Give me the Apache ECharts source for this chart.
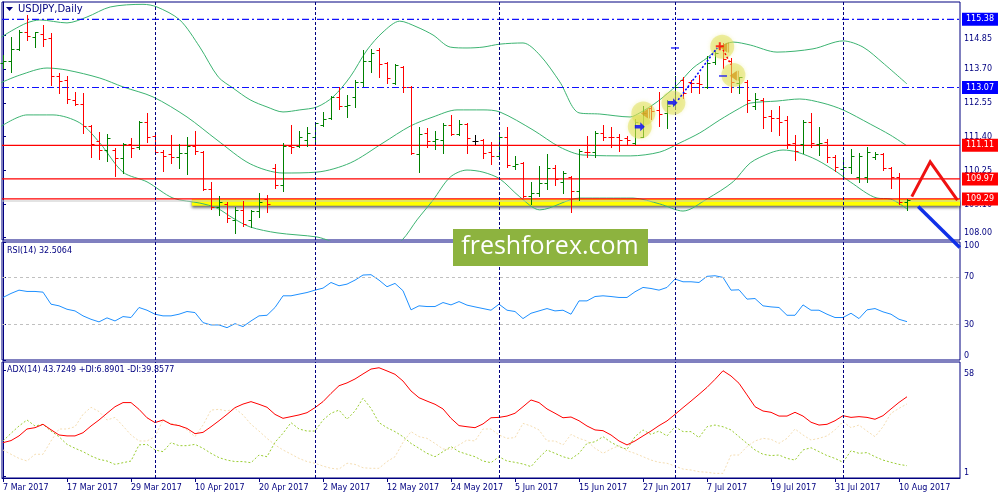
<!DOCTYPE html>
<html><head><meta charset="utf-8"><title>USDJPY Daily</title>
<script src="https://cdn.jsdelivr.net/npm/echarts@6/dist/echarts.min.js"></script>
<style>html,body{margin:0;padding:0;background:#fff;}#chart{width:1000px;height:500px;}</style>
</head><body><div id="chart"></div>
<script>
// ---------- data ----------
const dates = ['7 Mar 2017','8 Mar 2017','9 Mar 2017','10 Mar 2017','13 Mar 2017','14 Mar 2017','15 Mar 2017','16 Mar 2017','17 Mar 2017','20 Mar 2017','21 Mar 2017','22 Mar 2017','23 Mar 2017','24 Mar 2017','27 Mar 2017','28 Mar 2017','29 Mar 2017','30 Mar 2017','31 Mar 2017',
'3 Apr 2017','4 Apr 2017','5 Apr 2017','6 Apr 2017','7 Apr 2017','10 Apr 2017','11 Apr 2017','12 Apr 2017','13 Apr 2017','14 Apr 2017','17 Apr 2017','18 Apr 2017','19 Apr 2017','20 Apr 2017','21 Apr 2017','24 Apr 2017','25 Apr 2017','26 Apr 2017','27 Apr 2017','28 Apr 2017',
'1 May 2017','2 May 2017','3 May 2017','4 May 2017','5 May 2017','8 May 2017','9 May 2017','10 May 2017','11 May 2017','12 May 2017','15 May 2017','16 May 2017','17 May 2017','18 May 2017','19 May 2017','22 May 2017','23 May 2017','24 May 2017','25 May 2017','26 May 2017','29 May 2017','30 May 2017','31 May 2017',
'1 Jun 2017','2 Jun 2017','5 Jun 2017','6 Jun 2017','7 Jun 2017','8 Jun 2017','9 Jun 2017','12 Jun 2017','13 Jun 2017','14 Jun 2017','15 Jun 2017','16 Jun 2017','19 Jun 2017','20 Jun 2017','21 Jun 2017','22 Jun 2017','23 Jun 2017','26 Jun 2017','27 Jun 2017','28 Jun 2017','29 Jun 2017','30 Jun 2017',
'3 Jul 2017','4 Jul 2017','5 Jul 2017','6 Jul 2017','7 Jul 2017','10 Jul 2017','11 Jul 2017','12 Jul 2017','13 Jul 2017','14 Jul 2017','17 Jul 2017','18 Jul 2017','19 Jul 2017','20 Jul 2017','21 Jul 2017','24 Jul 2017','25 Jul 2017','26 Jul 2017','27 Jul 2017','28 Jul 2017','31 Jul 2017',
'1 Aug 2017','2 Aug 2017','3 Aug 2017','4 Aug 2017','7 Aug 2017','8 Aug 2017','9 Aug 2017','10 Aug 2017','11 Aug 2017'];

const opens = [113.89,113.97,114.38,114.96,114.79,114.87,114.74,113.46,113.32,112.65,
112.50,111.76,111.27,110.95,110.95,110.67,111.15,111.06,111.90,111.43,
110.89,110.81,110.72,110.84,111.10,110.89,109.62,109.03,109.12,108.58,
108.92,108.58,108.89,109.28,110.35,109.76,111.10,111.10,111.29,111.40,
111.80,112.02,112.76,112.44,112.76,113.27,113.98,114.34,113.89,113.21,
113.78,113.10,110.81,111.52,111.27,111.29,111.80,111.48,111.83,111.27,
111.29,110.89,110.75,111.38,110.42,110.50,109.39,109.50,109.84,110.33,
109.88,110.05,109.56,110.89,110.89,111.52,111.40,111.40,111.35,111.20,
111.40,112.36,112.31,112.19,112.51,113.32,113.27,113.21,113.08,113.95,
114.48,113.98,113.21,113.27,112.44,112.65,112.10,112.02,111.97,111.18,
111.15,111.91,111.15,111.23,110.72,110.30,110.39,110.02,110.05,110.72,
110.81,110.33,110.05,109.20];
const closes = [113.98,114.38,114.96,114.83,114.94,114.71,113.46,113.29,112.69,112.51,
111.78,111.15,110.95,111.37,110.67,111.15,111.03,111.91,111.38,110.87,
110.75,110.72,110.84,111.09,110.93,109.62,109.03,109.20,108.63,108.92,
108.44,108.88,109.20,109.12,109.76,111.10,111.06,111.38,111.52,111.85,
112.00,112.74,112.44,112.48,113.27,113.98,114.25,113.87,113.38,113.83,
113.08,110.84,111.49,111.27,111.31,111.80,111.48,111.83,111.35,111.27,
110.84,110.75,111.38,110.44,110.46,109.39,109.50,109.84,110.33,109.96,
110.16,109.56,110.93,110.87,111.54,111.40,111.38,111.29,111.29,111.91,
112.19,112.28,112.17,112.44,113.08,112.87,113.23,113.19,113.89,114.23,
114.02,113.27,113.41,112.65,112.67,112.06,112.02,111.91,111.15,110.93,
111.91,111.18,111.20,110.72,110.39,110.39,110.75,110.75,110.89,110.81,
110.33,110.05,109.20,109.25];
const lows = [113.72,113.61,114.34,114.68,114.45,114.49,113.15,112.89,112.56,112.48,
111.54,110.72,110.63,110.59,110.07,110.16,110.70,110.98,111.23,110.86,
110.25,110.52,110.33,110.13,110.81,109.60,108.94,108.75,108.52,108.12,
108.37,108.35,108.69,108.86,109.65,109.57,110.86,111.06,111.09,111.20,
111.76,111.99,112.33,112.08,112.40,113.12,113.61,113.44,113.21,113.18,
112.93,110.81,110.22,111.04,110.97,110.86,111.46,111.46,110.86,111.15,
110.67,110.48,110.67,110.39,110.30,109.37,109.12,109.39,109.62,109.76,
109.48,108.84,109.25,110.72,110.72,111.29,111.06,110.93,111.15,111.15,
111.38,111.99,111.76,111.69,112.44,112.70,112.93,112.87,113.06,113.87,
113.72,112.93,112.87,112.25,112.33,111.69,111.61,111.46,111.01,110.61,
110.84,111.06,110.78,110.55,110.25,110.02,110.16,109.88,109.88,110.63,
110.27,109.65,109.12,108.92];
const highs = [114.17,114.77,115.02,115.53,114.96,115.19,114.91,113.55,113.46,112.91,
112.87,111.80,111.57,111.49,111.01,111.20,111.35,111.94,112.19,111.46,
110.95,111.46,111.15,111.40,111.59,110.93,109.88,109.39,109.20,109.03,
109.22,108.92,109.48,109.43,110.46,111.18,111.80,111.59,111.72,111.91,
112.25,112.78,113.08,112.82,113.32,114.34,114.36,114.40,113.95,113.86,
113.80,113.12,111.72,111.69,111.61,111.85,112.14,111.97,111.85,111.46,
111.31,111.23,111.46,111.74,110.75,110.53,109.88,110.41,110.81,110.44,
110.25,110.07,110.97,111.43,111.59,111.80,111.72,111.48,111.43,111.99,
112.44,112.44,112.93,112.65,113.46,113.44,113.32,113.49,114.14,114.32,
114.57,114.06,113.44,113.32,112.87,112.70,112.31,112.44,112.10,111.46,
111.97,112.19,111.72,111.31,110.78,110.67,110.97,110.86,111.06,110.89,
110.84,110.39,110.16,109.28];

// Bollinger bands: [bar index, price]
const bbUpper = [[-0.375,114.75],[1.25,115.02],[3,115.26],[4.6,115.36],[8,115.26],[10.5,115.46],[13.4,115.80],[17.5,115.89],[19.25,115.80],[22.1,115.36],[24.6,114.44],[26.9,113.43],[28.75,113.05],[30.9,112.65],[33,112.41],[35,112.24],[37.1,112.31],[39.25,112.41],[41.25,112.75],[43.4,113.43],[45.5,114.34],[47.5,114.95],[49.6,115.32],[51.75,115.12],[53.75,114.85],[55.9,114.44],[58,114.41],[60,114.44],[62.1,114.54],[65,114.58],[67.1,114.17],[69.6,113.26],[72,112.21],[74.6,112.17],[78.4,112.07],[79.6,112.21],[81.75,112.58],[84.25,113.15],[86.25,113.73],[88,114.07],[89.6,114.44],[91.25,114.61],[93.4,114.51],[96.75,114.27],[101.25,114.38],[105,114.65],[107.5,114.44],[110,113.90],[113,113.19]];
const bbMiddle = [[-0.375,113.22],[2.1,113.49],[5.5,113.73],[8,113.66],[12.1,113.39],[15,113.09],[18.75,112.75],[23,112.07],[26.75,111.29],[30.9,110.48],[35,110.17],[39.25,110.20],[43.4,110.51],[47.5,111.19],[50.9,111.76],[53.75,112.07],[56.75,112.31],[60,112.31],[62.1,112.24],[66.25,111.63],[69.6,111.05],[72.5,110.78],[78.4,110.75],[82.1,110.88],[84.6,111.19],[87.1,111.53],[89.6,111.97],[92.1,112.37],[93.4,112.54],[96.75,112.61],[99.6,112.68],[102.5,112.54],[105,112.31],[108.4,111.83],[110.9,111.46],[113,111.09]];
const bbLower = [[-0.375,111.73],[3,112.14],[6.25,112.14],[9.6,111.87],[12.1,111.19],[15,110.20],[18,109.87],[21.25,109.32],[24.6,109.15],[26.75,108.98],[28.75,108.64],[30.9,108.34],[34.25,108.14],[39.25,108.00],[40.9,107.86],[43.4,107.59],[47.5,107.43],[49.9,107.90],[51.75,108.58],[53.75,109.25],[55.9,110.03],[58,110.27],[60,110.20],[62.1,109.97],[64.6,109.36],[67.1,108.92],[72.1,109.32],[78.75,109.32],[82.1,109.12],[85,108.88],[88,109.29],[91.25,109.87],[93.4,110.51],[95.9,110.85],[97.5,110.95],[99.25,110.88],[101.75,110.61],[104.25,110.20],[105.9,109.87],[109.25,109.32],[110.9,109.29],[113,108.95]];

const rsi = [53.0,56.4,59.2,58.1,58.1,57.5,47.3,45.9,43.0,41.6,
37.4,34.5,32.3,35.7,33.1,36.8,36.0,44.5,42.2,38.8,
37.4,37.4,38.8,41.1,40.2,31.7,29.7,29.7,27.4,30.8,
28.3,33.1,37.4,37.9,44.5,54.4,54.4,55.8,57.2,59.2,
60.9,65.7,62.9,64.3,67.7,72.0,72.3,67.7,62.1,64.9,
58.7,42.5,45.9,45.3,45.3,48.7,46.7,49.5,46.5,45.0,
43.6,42.2,47.3,42.2,41.1,35.1,39.6,41.6,43.6,41.6,
42.2,38.8,50.1,50.1,53.8,54.4,53.8,53.0,53.0,57.8,
61.5,60.6,59.2,61.5,68.6,66.3,66.3,65.7,70.9,71.4,
70.0,59.2,59.5,51.6,52.1,45.9,45.0,44.5,37.9,37.9,
46.7,42.2,42.2,38.8,36.0,36.0,39.6,35.1,42.5,43.6,
40.8,38.8,34.5,32.5];
const adx = [19.2,20.3,22.8,26.5,27.2,29.0,26.1,23.3,22.8,22.8,
24.5,28.1,31.3,34.9,38.4,40.6,40.6,37.0,32.5,29.9,
31.3,29.0,28.3,26.8,24.0,24.7,27.7,30.9,34.3,37.9,
39.8,41.1,39.7,38.1,34.3,32.2,33.1,34.0,35.2,37.9,
41.1,45.5,49.6,51.1,53.2,55.9,58.5,59.2,57.5,55.7,
52.1,46.8,43.2,41.4,39.7,37.2,32.2,28.3,27.7,27.2,
29.2,32.5,32.7,33.4,34.9,38.4,42.0,40.6,37.2,34.9,
32.5,32.9,30.9,28.1,26.0,25.6,23.3,20.1,18.0,20.1,
22.8,25.4,28.3,30.8,34.3,37.9,41.4,45.0,48.7,53.0,
57.6,54.8,50.9,44.7,38.4,36.1,35.4,33.4,33.4,35.4,
33.4,30.1,28.6,29.0,30.9,33.6,32.7,33.1,32.7,31.7,
33.6,37.2,40.7,43.7];
const plusDI = [20.1,24.2,28.1,31.3,28.1,29.0,25.4,22.4,18.3,16.2,
14.4,12.1,10.3,9.4,7.6,8.5,9.4,18.0,18.3,15.3,
14.4,19.2,17.6,17.6,18.3,16.2,13.5,11.2,9.9,9.1,
9.1,8.5,12.6,11.7,19.4,24.2,29.9,26.5,25.4,25.4,
31.3,34.9,36.6,31.7,36.1,42.9,37.5,29.9,27.2,25.1,
22.4,18.8,16.2,13.5,11.7,14.4,17.1,14.4,13.0,11.7,
9.4,8.5,11.7,9.4,8.7,7.8,6.4,11.2,15.3,13.5,
11.7,10.5,13.5,18.8,19.7,22.4,19.4,17.1,15.6,22.4,
26.0,23.6,25.4,22.8,27.7,25.1,25.1,21.9,27.7,28.6,
27.7,26.0,22.4,18.8,15.3,13.0,12.3,12.6,10.8,9.9,
15.3,16.5,14.4,12.3,10.8,8.7,14.9,13.5,13.9,11.7,
9.9,8.7,7.6,6.9];
const minusDI = [15.3,13.0,10.8,9.4,13.0,13.0,20.1,26.5,26.5,27.7,
34.3,38.1,35.8,31.3,32.7,28.1,23.3,20.1,20.1,22.4,
31.3,29.5,28.6,26.0,22.4,28.6,36.6,37.0,36.1,37.5,
34.0,29.0,25.4,21.5,18.0,15.3,13.1,10.8,9.1,8.2,
6.7,5.5,5.1,8.2,7.6,5.8,5.5,5.5,9.1,11.7,
19.4,25.1,22.4,21.5,18.8,15.8,15.6,18.0,20.6,20.1,
26.5,26.5,23.3,21.5,21.9,29.5,28.1,26.0,20.1,20.1,
18.0,23.6,21.5,20.1,16.2,13.5,15.8,17.6,14.9,13.5,
11.7,9.9,8.7,8.2,6.7,5.1,4.6,3.7,3.4,2.8,
2.8,12.6,12.6,17.1,20.1,21.5,21.0,18.8,21.5,26.5,
23.3,20.6,21.5,22.8,26.0,30.4,27.2,28.6,25.4,22.4,
27.7,34.9,37.5,39.9];

// tick labels / levels
const xLabelIdx = [0,8,16,24,32,40,48,56,64,72,80,88,96,104,112];
const monthStartIdx = [19,39,62,84,105];
const priceTicks = [108.00,109.10,110.25,111.40,112.55,113.70,114.85];
const blueLevels = [115.38,113.07];
const redLevels = [111.11,109.97,109.29];
const greyLevel = [109.22];
const rsiTicks = [0,30,70,100];
const rsiLevels = [30,70];
const adxTicks = [1,58];
const zoneStartIdx = 23.6, zoneTop = 109.29, zoneBottom = 109.06;
// annotations (bar index, price)
const signalCircles = [[79.6,111.74],[80.04,112.19],[83.8,112.55],[89.9,114.45],[91.3,113.49]];
const buyArrows = [[79.6,111.74],[83.7,112.55]];
const flagMarks = [[80.3,112.19],[90.2,114.43],[91.4,113.47]];
const crossMarks = [[89.6,114.47]];
const dashMarks = [[84,114.41],[90,113.46]];
const tradeLine = [[84.4,112.65],[89.25,114.41]];
const closeLine = [[90.0,114.35],[91.0,113.85]];
const redArrowPath = [[113.6,109.37],[115.9,110.55],[119.3,109.25]];
const blueArrowPath = [[114.4,109.03],[119.6,107.64]];

// ---------- chart ----------
const NAVY = '#000080';
const FONT = 'DejaVu Sans';
const XMIN = -0.125, XMAX = 119.625;
const ohlc = opens.map((o,i)=>[i,o,closes[i],lows[i],highs[i]]);
const idx = a => a.map((v,i)=>[i,v]);

function xAxisFor(g, showLabels){
  return {type:'value', gridIndex:g, min:XMIN, max:XMAX,
    axisLine:{show:showLabels, lineStyle:{color:NAVY}},
    axisTick:{show:showLabels, customValues:xLabelIdx, length:4, lineStyle:{color:NAVY}},
    axisLabel:{show:showLabels, customValues:xLabelIdx, formatter:v=>dates[Math.round(v)]||'', align:'left',
      color:NAVY, fontFamily:FONT, fontSize:8, margin:6},
    splitLine:{show:false}};
}
function yAxisFor(g, min, max, ticks, fmt){
  return {type:'value', gridIndex:g, position:'right', min:min, max:max,
    axisLine:{show:true, lineStyle:{color:NAVY}},
    axisTick:{show:true, customValues:ticks, length:3, lineStyle:{color:NAVY}},
    axisLabel:{customValues:ticks, formatter:fmt, color:NAVY, fontFamily:FONT, fontSize:8, margin:4,
      verticalAlignMaxLabel:'top', verticalAlignMinLabel:'bottom'},
    splitLine:{show:false}};
}
// horizontal level drawn as a two-point line across the whole axis, with a price box at its end
function levelSeries(v, lineColor, boxColor, dash, showBox){
  return {type:'line', xAxisIndex:0, yAxisIndex:0, data:[[XMIN,v],[XMAX,v]], z:3, silent:true,
    symbol:'none', color:lineColor, lineStyle:{color:lineColor, type:dash, width:1.2},
    endLabel:{show:showBox, formatter:()=>v.toFixed(2), distance:2, color:'#ffffff',
      backgroundColor:boxColor, fontFamily:FONT, fontSize:8, padding:[3,4,2,4]}};
}
function vGridSeries(g){
  return {type:'line', xAxisIndex:g, yAxisIndex:g, data:[], z:1, color:NAVY,
    markLine:{silent:true, symbol:['none','none'], label:{show:false},
      lineStyle:{color:NAVY, type:[3,2], width:1, opacity:1},
      data: monthStartIdx.map(v=>({xAxis:v}))}};
}

const gridBox = {show:true, borderColor:NAVY, borderWidth:1, containLabel:false};
const option = {
  animation:false,
  backgroundColor:'#ffffff',
  grid:[
    Object.assign({left:2, top:2, width:958, height:238}, gridBox),
    Object.assign({left:2, top:242, width:958, height:118}, gridBox),
    Object.assign({left:2, top:362, width:958, height:116}, gridBox)
  ],
  xAxis:[xAxisFor(0,false), xAxisFor(1,false), xAxisFor(2,true)],
  yAxis:[
    yAxisFor(0, 107.898, 115.969, priceTicks, v=>v.toFixed(2)),
    yAxisFor(1, 0, 100, rsiTicks, v=>String(Math.round(v))),
    yAxisFor(2, 0.33, 62.27, adxTicks, v=>String(Math.round(v)))
  ],
  graphic:[
    {type:'polygon', shape:{points:[[6,7],[13,7],[9.5,11]]}, style:{fill:NAVY}, z:100},
    {type:'text', left:18, top:4, style:{text:'USDJPY,Daily', fill:NAVY, font:'10px "DejaVu Sans"'}, z:100},
    {type:'text', left:7, top:247, style:{text:'RSI(14) 32.5064', fill:NAVY, font:'8px "DejaVu Sans"'}, z:100},
    {type:'text', left:7, top:366, style:{text:'ADX(14) 43.7249 +DI:6.8901 -DI:39.8577', fill:NAVY, font:'8px "DejaVu Sans"'}, z:100},
    {type:'rect', shape:{x:453, y:229, width:195, height:37}, style:{fill:'#8DB33F'}, z:90},
    {type:'text', x:550, y:247, style:{text:'freshforex.com', fill:'#ffffff', font:'25px "Open Sans"', textAlign:'center', textVerticalAlign:'middle'}, z:91}
  ],
  series:[
    vGridSeries(0), vGridSeries(1), vGridSeries(2),
    // support zone
    {type:'line', name:'zone', xAxisIndex:0, yAxisIndex:0, data:[], z:1, silent:true,
      markArea:{silent:true, itemStyle:{color:'#FFFF00', shadowColor:'rgba(0,0,0,0.6)', shadowBlur:3, shadowOffsetY:2},
        data:[[{xAxis:zoneStartIdx, yAxis:zoneTop},{xAxis:XMAX, yAxis:zoneBottom}]]}
    },
    levelSeries(greyLevel[0], '#C8C8C8', '#C8C8C8', 'solid', false),
    {type:'line', name:'BB upper', xAxisIndex:0, yAxisIndex:0, data:bbUpper, symbol:'none', smooth:0.3, z:2,
      lineStyle:{color:'#3CB371', width:1}},
    {type:'line', name:'BB middle', xAxisIndex:0, yAxisIndex:0, data:bbMiddle, symbol:'none', smooth:0.3, z:2,
      lineStyle:{color:'#3CB371', width:1}},
    {type:'line', name:'BB lower', xAxisIndex:0, yAxisIndex:0, data:bbLower, symbol:'none', smooth:0.3, z:2,
      lineStyle:{color:'#3CB371', width:1}}
  ]
  .concat(blueLevels.map(v=>levelSeries(v, '#1010FF', '#0000FF', [7,3,2,3], true)))
  .concat(redLevels.map(v=>levelSeries(v, '#FF0000', '#FF0000', 'solid', true)))
  .concat([
    // OHLC bars
    {type:'custom', name:'USDJPY', xAxisIndex:0, yAxisIndex:0, z:4, data:ohlc,
      encode:{x:0, y:[1,2,3,4]},
      renderItem:function(params, api){
        const i = api.value(0), o = api.value(1), c = api.value(2), l = api.value(3), h = api.value(4);
        const po = api.coord([i,o]), pc = api.coord([i,c]), pl = api.coord([i,l]), ph = api.coord([i,h]);
        const x = Math.round(po[0]) + 0.5;
        const color = c > o ? '#008000' : (c < o ? '#FF0000' : '#000000');
        const r = v => Math.round(v) + 0.5;
        return {type:'group', children:[
          {type:'line', shape:{x1:x, y1:Math.round(ph[1]), x2:x, y2:Math.round(pl[1])+1}, style:{stroke:color, lineWidth:1}},
          {type:'line', shape:{x1:x-3, y1:r(po[1]), x2:x, y2:r(po[1])}, style:{stroke:color, lineWidth:1}},
          {type:'line', shape:{x1:x, y1:r(pc[1]), x2:x+3, y2:r(pc[1])}, style:{stroke:color, lineWidth:1}}
        ]};
      }
    },
    // trade annotations
    {type:'scatter', xAxisIndex:0, yAxisIndex:0, data:signalCircles, symbolSize:24, z:5, silent:true,
      itemStyle:{color:'rgba(222,222,80,0.6)', shadowColor:'rgba(222,222,80,0.6)', shadowBlur:4}},
    {type:'line', xAxisIndex:0, yAxisIndex:0, data:tradeLine, symbol:'none', z:6, silent:true,
      lineStyle:{color:'#0000FF', type:[2,2], width:1.5}},
    {type:'line', xAxisIndex:0, yAxisIndex:0, data:closeLine, symbol:'none', z:6, silent:true,
      lineStyle:{color:'#FF0000', type:[2,2], width:1.5}},
    {type:'scatter', xAxisIndex:0, yAxisIndex:0, data:buyArrows, z:7, silent:true,
      symbol:'path://M0,3 L6,3 L6,0 L11,5 L6,10 L6,7 L0,7 Z', symbolSize:[10,9], itemStyle:{color:'#0000FF'}},
    {type:'scatter', xAxisIndex:0, yAxisIndex:0, data:flagMarks, z:7, silent:true,
      symbol:'path://M0,5 L8,0 L8,10 Z M9,0 L10,0 L10,10 L9,10 Z', symbolSize:[9,10], itemStyle:{color:'#D4A020'}},
    {type:'scatter', xAxisIndex:0, yAxisIndex:0, data:crossMarks, z:7, silent:true,
      symbol:'path://M3,0 L5,0 L5,3 L8,3 L8,5 L5,5 L5,8 L3,8 L3,5 L0,5 L0,3 L3,3 Z', symbolSize:8, itemStyle:{color:'#FF0000'}},
    {type:'scatter', xAxisIndex:0, yAxisIndex:0, data:dashMarks, z:7, silent:true,
      symbol:'rect', symbolSize:[8,1.5], itemStyle:{color:'#0000FF'}},
    // forecast arrows
    {type:'lines', coordinateSystem:'cartesian2d', xAxisIndex:0, yAxisIndex:0, polyline:true, clip:false, z:20, silent:true,
      symbol:['none','arrow'], symbolSize:12,
      lineStyle:{color:'#EE1111', width:3, opacity:1}, data:[{coords:redArrowPath}]},
    {type:'lines', coordinateSystem:'cartesian2d', xAxisIndex:0, yAxisIndex:0, polyline:true, clip:false, z:20, silent:true,
      symbol:['none','arrow'], symbolSize:14,
      lineStyle:{color:'#1030E8', width:3.5, opacity:1}, data:[{coords:blueArrowPath}]},
    // RSI
    {type:'line', name:'RSI', xAxisIndex:1, yAxisIndex:1, data:idx(rsi), symbol:'none', z:3,
      lineStyle:{color:'#1E90FF', width:1},
      markLine:{silent:true, symbol:['none','none'], label:{show:false},
        lineStyle:{color:'#C0C0C0', type:[3,3], width:1, opacity:1},
        data: rsiLevels.map(v=>({yAxis:v}))}
    },
    // ADX
    {type:'line', name:'+DI', xAxisIndex:2, yAxisIndex:2, data:idx(plusDI), symbol:'none', z:3,
      lineStyle:{color:'#9ACD32', width:1, type:[2,2]}},
    {type:'line', name:'-DI', xAxisIndex:2, yAxisIndex:2, data:idx(minusDI), symbol:'none', z:3,
      lineStyle:{color:'#F5DEB3', width:1, type:[2,2]}},
    {type:'line', name:'ADX', xAxisIndex:2, yAxisIndex:2, data:idx(adx), symbol:'none', z:4,
      lineStyle:{color:'#FF0000', width:1}}
  ])
};
const chart = echarts.init(document.getElementById('chart'), null, {renderer:'canvas'});
chart.setOption(option);
</script></body></html>
